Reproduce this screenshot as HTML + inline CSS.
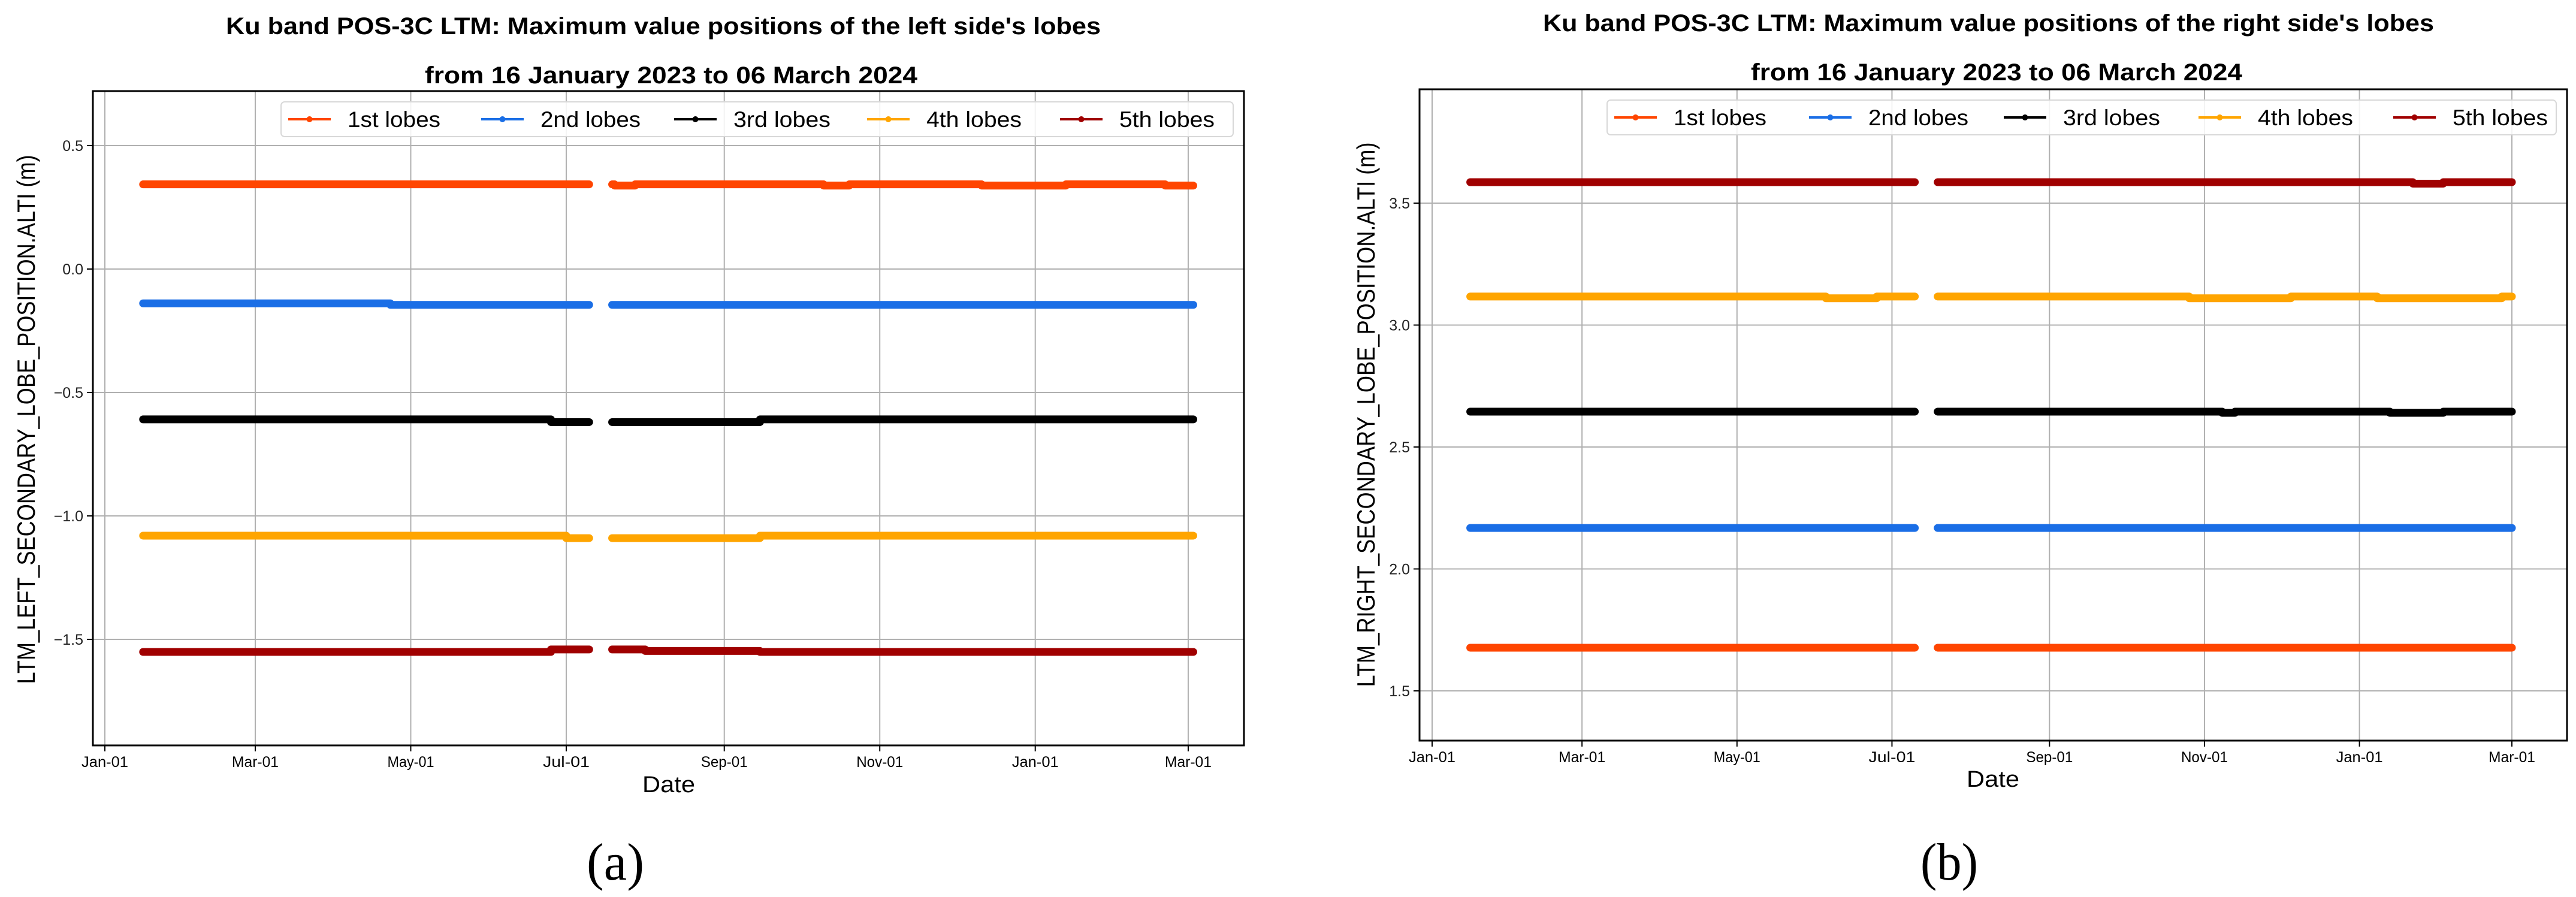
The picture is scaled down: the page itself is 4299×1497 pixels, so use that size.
<!DOCTYPE html>
<html><head><meta charset="utf-8"><style>
html,body{margin:0;padding:0;background:#fff;}
svg{display:block;}
text{font-family:"Liberation Sans","DejaVu Sans",sans-serif;}
</style></head>
<body>
<svg id="fig" xmlns="http://www.w3.org/2000/svg" width="4299" height="1497" viewBox="0 0 4299 1497"></svg>
<script>
// ---- shared data ----
const tickDays = [0, 59, 120, 181, 243, 304, 365, 425];
const tickLabels = ["Jan-01","Mar-01","May-01","Jul-01","Sep-01","Nov-01","Jan-01","Mar-01"];
const seriesNames = ["1st lobes","2nd lobes","3rd lobes","4th lobes","5th lobes"];
const seriesColors = ["#ff4500","#1a6ee6","#000000","#ffa500","#a00000"];
// data coverage (days since 2023-01-01)
const leftRanges = [[15,190],[199,427]];
const rightRanges = [[15,190],[199,425]];

// Left chart: step breakpoints (day) and values
const leftYTicks = [0.5, 0.0, -0.5, -1.0, -1.5];
const leftYLabels = ["0.5","0.0","\u22120.5","\u22121.0","\u22121.5"];
const left1Days = [15,200,208,282,292,344,377,416];
const left1Vals = [0.343,0.338,0.343,0.338,0.343,0.338,0.343,0.338];
const left2Days = [15,112];
const left2Vals = [-0.139,-0.145];
const left3Days = [15,175,257];
const left3Vals = [-0.609,-0.620,-0.609];
const left4Days = [15,181,257];
const left4Vals = [-1.080,-1.090,-1.080];
const left5Days = [15,175,212,257];
const left5Vals = [-1.551,-1.541,-1.547,-1.551];

// Right chart
const rightYTicks = [3.5, 3.0, 2.5, 2.0, 1.5];
const rightYLabels = ["3.5","3.0","2.5","2.0","1.5"];
const right1Days = [15];
const right1Vals = [1.677];
const right2Days = [15];
const right2Vals = [2.168];
const right3Days = [15,311,316,377,398];
const right3Vals = [2.645,2.640,2.645,2.640,2.645];
const right4Days = [15,155,175,298,338,372,421];
const right4Vals = [3.117,3.110,3.117,3.110,3.117,3.110,3.117];
const right5Days = [15,386,398];
const right5Vals = [3.586,3.580,3.586];

const NS = "http://www.w3.org/2000/svg";
const svg = document.getElementById("fig");
function el(tag, attrs, parent){
  const e = document.createElementNS(NS, tag);
  for (const k in attrs) e.setAttribute(k, attrs[k]);
  (parent||svg).appendChild(e);
  return e;
}
function txt(parent, s, attrs){
  const t = el("text", attrs, parent);
  t.textContent = s;
  return t;
}

function drawChart(cfg){
  const g = el("g", {});
  
  
  const X = d => cfg.x0 + (d - 0) * cfg.pxDay;
  const Y = v => cfg.yRef + (cfg.vRef - v) * cfg.pxUnit;
  const L = cfg.left, R = cfg.right, T = cfg.top, B = cfg.bottom;

  tickDays.forEach((d,i)=>{
    const gl = el("line",{x1:X(d),x2:X(d),y1:T,y2:B,stroke:"#b0b0b0","stroke-width":2},g);
    
    
    el("line",{x1:X(d),x2:X(d),y1:B,y2:B+10,stroke:"#000","stroke-width":2},g);
    const t = txt(g, tickLabels[i], {x:X(d), y:B+36, "font-size":25, "text-anchor":"middle", textLength:cfg.tickW, lengthAdjust:"spacingAndGlyphs", fill:"#000"});
    
    
  });
  cfg.yTicks.forEach((v,i)=>{
    const gl = el("line",{x1:L,x2:R,y1:Y(v),y2:Y(v),stroke:"#b0b0b0","stroke-width":2},g);
    
    
    el("line",{x1:L-10,x2:L,y1:Y(v),y2:Y(v),stroke:"#000","stroke-width":2},g);
    const t = txt(g, cfg.yLabels[i], {x:L-16, y:Y(v)+9, "font-size":25, "text-anchor":"end", fill:"#222"});
    
    
  });

  cfg.series.forEach((s,si)=>{
    const sg = el("g",{},g);
    
    
    cfg.ranges.forEach(([a,b])=>{
      let dpts=[];
      for (let k=0;k<s.days.length;k++){
        const start = Math.max(s.days[k], a);
        const end = Math.min(k+1<s.days.length ? s.days[k+1] : 1e9, b);
        if (end>start) dpts.push([start,end,s.vals[k]]);
      }
      dpts.forEach(([s0,e0,v])=>{
        const ln = el("line",{x1:X(s0),x2:X(e0),y1:Y(v),y2:Y(v),stroke:seriesColors[si],"stroke-width":13,"stroke-linecap":"round"},sg);
        
        
      });
    });
  });

  const fr = el("rect",{x:L,y:T,width:R-L,height:B-T,fill:"none",stroke:"#000","stroke-width":3},g);
  
  

  const lg = el("g",{},g);
  
  
  el("rect",{x:cfg.legX,y:T+18,width:cfg.legW,height:58,rx:6,fill:"rgba(255,255,255,0.85)",stroke:"#d8d8d8","stroke-width":2},lg);
  const widths=[155,167,162,159,159];
  seriesNames.forEach((n,i)=>{
    const ex = cfg.legX + 12 + i*cfg.legStep;
    const cy = T+18+29;
    const le = el("g",{},lg);
    
    
    el("line",{x1:ex,x2:ex+71,y1:cy,y2:cy,stroke:seriesColors[i],"stroke-width":4},le);
    el("circle",{cx:ex+35.5,cy:cy,r:5,fill:seriesColors[i]},le);
    txt(le, n, {x:ex+99, y:cy+13, "font-size":37, textLength:widths[i], lengthAdjust:"spacingAndGlyphs", fill:"#000"});
  });

  const t1 = txt(g, cfg.title1, {x:(cfg.t1a+cfg.t1b)/2, y:cfg.t1y, "font-size":40, "font-weight":"bold", "text-anchor":"middle", textLength:cfg.t1b-cfg.t1a, lengthAdjust:"spacingAndGlyphs"});
  
  
  const t2 = txt(g, "from 16 January 2023 to 06 March 2024", {x:(cfg.t2a+cfg.t2b)/2, y:cfg.t2y, "font-size":40, "font-weight":"bold", "text-anchor":"middle", textLength:cfg.t2b-cfg.t2a, lengthAdjust:"spacingAndGlyphs"});
  
  

  const xt = txt(g, "Date", {x:cfg.dateX, y:cfg.dateY, "font-size":38, "text-anchor":"middle", textLength:88, lengthAdjust:"spacingAndGlyphs"});
  
  
  const yt = txt(g, cfg.yTitle, {x:0, y:0, "font-size":42, "text-anchor":"middle", textLength:cfg.yTitleLen, lengthAdjust:"spacingAndGlyphs", transform:`translate(${cfg.yTitleX},${cfg.yTitleY}) rotate(-90)`});
  
  
  const pl = txt(g, cfg.panel, {x:cfg.panelX, y:1468, "font-size":88, "text-anchor":"middle", textLength:96, lengthAdjust:"spacingAndGlyphs", style:"font-family:'Liberation Serif',serif"});
  
  
}

drawChart({
  name:"left-lobes-chart", left:155, right:2076, top:152, bottom:1244,
  x0:175, pxDay:4.254, yRef:449, vRef:0, pxUnit:412, ranges:leftRanges,
  yTicks:leftYTicks, yLabels:leftYLabels, tickW:78,
  series:[{days:left1Days,vals:left1Vals},{days:left2Days,vals:left2Vals},{days:left3Days,vals:left3Vals},{days:left4Days,vals:left4Vals},{days:left5Days,vals:left5Vals}],
  legX:469, legW:1589, legStep:322,
  title1:"Ku band POS-3C LTM: Maximum value positions of the left side's lobes",
  t1a:377, t1b:1837, t1y:57, t2a:709, t2b:1531, t2y:139,
  dateX:1116, dateY:1322,
  yTitle:"LTM_LEFT_SECONDARY_LOBE_POSITION.ALTI (m)", yTitleX:58, yTitleY:700, yTitleLen:883,
  panel:"(a)", panelX:1027
});
drawChart({
  name:"right-lobes-chart", left:2369, right:4284, top:149, bottom:1236,
  x0:2390, pxDay:4.24, yRef:339, vRef:3.5, pxUnit:407, ranges:rightRanges,
  yTicks:rightYTicks, yLabels:rightYLabels, tickW:78,
  series:[{days:right1Days,vals:right1Vals},{days:right2Days,vals:right2Vals},{days:right3Days,vals:right3Vals},{days:right4Days,vals:right4Vals},{days:right5Days,vals:right5Vals}],
  legX:2682, legW:1584, legStep:325,
  title1:"Ku band POS-3C LTM: Maximum value positions of the right side's lobes",
  t1a:2575, t1b:4062, t1y:52, t2a:2922, t2b:3742, t2y:134,
  dateX:3326, dateY:1313,
  yTitle:"LTM_RIGHT_SECONDARY_LOBE_POSITION.ALTI (m)", yTitleX:2294, yTitleY:692, yTitleLen:909,
  panel:"(b)", panelX:3253
});
</script>
</body></html>
